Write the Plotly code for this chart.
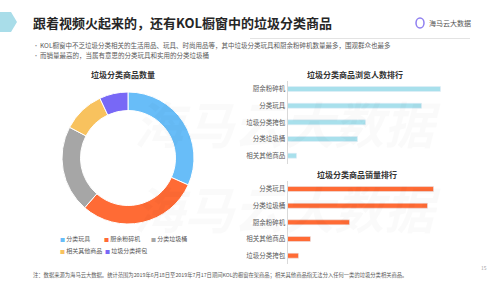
import plotly.graph_objects as go

W, H = 500, 281
def X(px): return px / W
def Y(py): return 1 - py / H

FONT = "Noto Sans CJK SC"

# ---------------- data ----------------
title = "跟着视频火起来的，还有KOL橱窗中的垃圾分类商品"
bullets = [
    "KOL橱窗中不乏垃圾分类相关的生活用品、玩具、时尚用品等，其中垃圾分类玩具和厨余粉碎机数量最多，围观群众也最多",
    "而销量最高的，当属有意思的分类玩具和实用的分类垃圾桶",
]
footnote = "注：数据来源为海马云大数据。统计范围为2019年6月18日至2019年7月17日期间KOL的橱窗在架商品；相关其他商品指无法分入任何一类的垃圾分类相关商品。"
brand = "海马云大数据"
page_no = "15"

pie_title = "垃圾分类商品数量"
pie_labels = ["分类玩具", "厨余粉碎机", "分类垃圾桶", "相关其他商品", "垃圾分类挎包"]
pie_values = [31.7, 29.7, 21.3, 10.3, 7.0]
pie_colors = ["#68bdf8", "#ff6b35", "#a6a6a6", "#f8c25e", "#7868f6"]

browse_title = "垃圾分类商品浏览人数排行"
browse_labels = ["厨余粉碎机", "分类玩具", "垃圾分类挎包", "分类垃圾桶", "相关其他商品"]
browse_values = [153, 134, 78, 70, 9]

sales_title = "垃圾分类商品销量排行"
sales_labels = ["分类玩具", "分类垃圾桶", "厨余粉碎机", "相关其他商品", "垃圾分类挎包"]
sales_values = [146, 140, 62, 23, 11]

browse_color = "#a8e0ec"
sales_color = "#ff6b35"

# ---------------- figure ----------------
fig = go.Figure()

fig.add_trace(go.Pie(
    labels=pie_labels, values=pie_values, hole=0.72, sort=False,
    direction="clockwise", rotation=0,
    marker=dict(colors=pie_colors, line=dict(color="white", width=1)),
    textinfo="none", showlegend=False,
    domain=dict(x=[X(62), X(194)], y=[Y(224), Y(92)]),
))

fig.add_trace(go.Bar(
    x=browse_values, y=browse_labels, orientation="h",
    marker=dict(color=browse_color), width=0.3,
    xaxis="x", yaxis="y", showlegend=False,
))
fig.add_trace(go.Bar(
    x=sales_values, y=sales_labels, orientation="h",
    marker=dict(color=sales_color), width=0.3,
    xaxis="x2", yaxis="y2", showlegend=False,
))

xa = dict(range=[0, 187.5], domain=[X(287.5), X(475)], visible=False, fixedrange=True)
ya_common = dict(showline=True, linecolor="#d9d9d9", linewidth=1, ticks="",
                 showgrid=False, zeroline=False, autorange="reversed",
                 tickfont=dict(family=FONT, size=6.5, color="#595959"))

fig.update_layout(
    width=W, height=H,
    margin=dict(l=0, r=0, t=0, b=0),
    paper_bgcolor="white", plot_bgcolor="rgba(0,0,0,0)",
    bargap=0.7,
    xaxis=dict(**xa, anchor="y"),
    yaxis=dict(**ya_common, domain=[Y(164), Y(80.7)], anchor="x"),
    xaxis2=dict(**xa, anchor="y2"),
    yaxis2=dict(**ya_common, domain=[Y(264), Y(180.7)], anchor="x2"),
)

ann = []
# watermark (very faint)
for yc in (122, 207):
    ann.append(dict(x=X(132), y=Y(yc), xref="paper", yref="paper", xanchor="left", yanchor="middle",
                    text=brand, showarrow=False,
                    font=dict(family=FONT, size=50, color="rgba(0,0,0,0.02)", weight="bold", style="italic")))
# title
ann.append(dict(x=X(31), y=Y(23), xref="paper", yref="paper", xanchor="left", yanchor="middle",
                text="<b>" + title + "</b>", showarrow=False,
                font=dict(family=FONT, size=13, color="#262626")))
# brand
ann.append(dict(x=X(427), y=Y(23), xref="paper", yref="paper", xanchor="left", yanchor="middle",
                text=brand, showarrow=False, font=dict(family=FONT, size=7, color="#555555")))
# bullets
for i, b in enumerate(bullets):
    yy = 45.5 + i * 9.5
    ann.append(dict(x=X(30.5), y=Y(yy), xref="paper", yref="paper", xanchor="left", yanchor="middle",
                    text="•", showarrow=False, font=dict(family=FONT, size=6, color="#8c8c8c")))
    ann.append(dict(x=X(37.5), y=Y(yy), xref="paper", yref="paper", xanchor="left", yanchor="middle",
                    text=b, showarrow=False, font=dict(family=FONT, size=6.5, color="#595959")))
# chart titles
for t, cx, cy in ((pie_title, 122.5, 74), (browse_title, 355, 74), (sales_title, 357, 174)):
    ann.append(dict(x=X(cx), y=Y(cy), xref="paper", yref="paper", xanchor="center", yanchor="middle",
                    text="<b>" + t + "</b>", showarrow=False,
                    font=dict(family=FONT, size=8, color="#333333")))
# pie legend
leg_pos = [(58, 238), (102, 238), (149, 238), (58, 250.5), (103, 250.5)]
for lab, col, (lx, ly) in zip(pie_labels, pie_colors, leg_pos):
    ann.append(dict(x=X(lx), y=Y(ly), xref="paper", yref="paper", xanchor="left", yanchor="middle",
                    text=f"<span style='color:{col};font-size:5px'>■</span> {lab}", showarrow=False,
                    font=dict(family=FONT, size=6, color="#595959")))
# footnote + page no
ann.append(dict(x=X(31), y=Y(275), xref="paper", yref="paper", xanchor="left", yanchor="middle",
                text=footnote, showarrow=False, font=dict(family=FONT, size=5.3, color="#595959")))
ann.append(dict(x=X(484), y=Y(267.5), xref="paper", yref="paper", xanchor="center", yanchor="middle",
                text=page_no, showarrow=False, font=dict(family=FONT, size=5, color="#a6a6a6")))
fig.update_layout(annotations=ann)

# decorations
pts = [(0, 12), (11, 12), (17, 22), (11, 32), (0, 32)]
path = "M " + " L ".join(f"{X(a)},{Y(b)}" for a, b in pts) + " Z"
fig.update_layout(shapes=[
    dict(type="path", path=path, xref="paper", yref="paper", fillcolor="#a9dde9", line=dict(width=0)),
    dict(type="line", x0=X(250), x1=X(470), y0=Y(38.5), y1=Y(38.5), xref="paper", yref="paper",
         line=dict(color="#e3e3e3", width=1)),
    dict(type="circle", x0=X(416), x1=X(424), y0=Y(28), y1=Y(18), xref="paper", yref="paper",
         line=dict(color="#8f7ff0", width=1.5)),
])

fig.write_html("out.html")
